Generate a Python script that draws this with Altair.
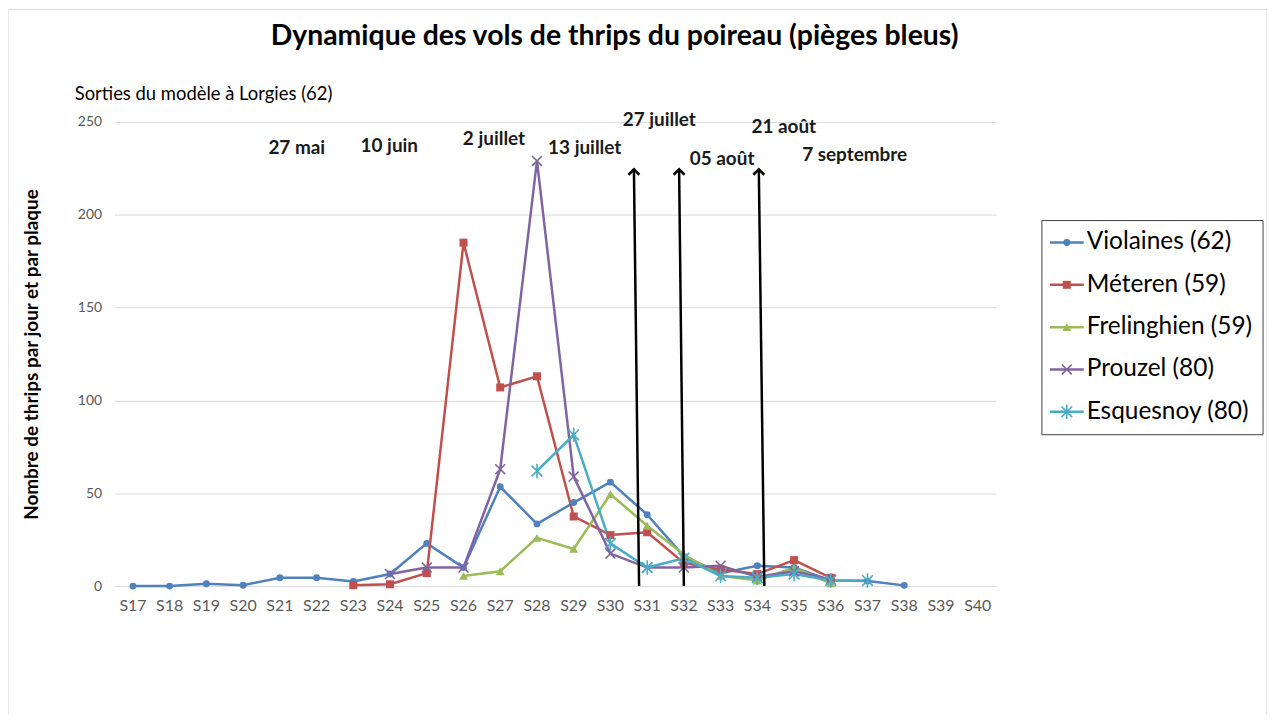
import altair as alt
import pandas as pd

# ---------------- data ----------------
weeks = list(range(17, 41))
week_labels = ["S%d" % w for w in weeks]
series_names = ["Violaines (62)", "Méteren (59)", "Frelinghien (59)", "Prouzel (80)", "Esquesnoy (80)"]
colors = ["#4F81BD", "#C0504D", "#9BBB59", "#8064A2", "#4BACC6"]

violaines_weeks = list(range(17, 39))
violaines = [0, 0, 1.3, 0.5, 4.5, 4.5, 2.5, 6.5, 23, 10, 53.5, 33.5, 45, 56, 38.5, 16, 7, 11, 10, 3, 2.7, 0.4]
meteren_weeks = list(range(23, 37))
meteren = [0.5, 1, 7, 185, 107, 113, 37.5, 27.5, 29, 12.5, 9, 6.5, 14, 4.5]
frelinghien_weeks = list(range(26, 37))
frelinghien = [5.5, 8, 26, 20, 49.5, 32.5, 17, 5.5, 3, 10, 1.5]
prouzel_weeks = list(range(24, 37))
prouzel = [6.5, 10, 10, 63, 229, 59, 17.5, 10, 10, 11, 5, 8, 3.5]
esquesnoy_weeks = list(range(28, 38))
esquesnoy = [62, 81.5, 23, 10, 15, 5.5, 4.5, 6.5, 3, 3]

ann_text = ["27 mai", "10 juin", "2 juillet", "13 juillet", "27 juillet", "05 août", "21 août", "7 septembre"]
ann_week = [21.46, 23.98, 26.83, 29.3, 31.33, 33.04, 34.72, 36.65]
ann_value = [236, 237, 241, 236, 251, 230, 247, 232]

arrow_week_base = [30.78, 32.0, 34.19]
arrow_week_tip = [30.64, 31.87, 34.04]
arrow_tip_value = [224.5, 224.5, 224.5]

title_text = "Dynamique des vols de thrips du poireau (pièges bleus)"
subtitle_text = "Sorties du modèle à Lorgies (62)"
y_title = "Nombre de thrips par jour et par plaque"

# ---------------- tables ----------------
rows = []
for name, wk, vals in zip(series_names,
                          [violaines_weeks, meteren_weeks, frelinghien_weeks, prouzel_weeks, esquesnoy_weeks],
                          [violaines, meteren, frelinghien, prouzel, esquesnoy]):
    for w, v in zip(wk, vals):
        rows.append({"series": name, "week": w, "value": v})
df = pd.DataFrame(rows)
ann_df = pd.DataFrame({"label": ann_text, "week": ann_week, "value": ann_value})
arrow_df = pd.DataFrame({"base": arrow_week_base, "tip": arrow_week_tip,
                         "y0": [0] * len(arrow_tip_value), "y1": arrow_tip_value})
tick_df = pd.DataFrame({"week": weeks, "label": week_labels})
legend_df = pd.DataFrame({"series": series_names})
one = pd.DataFrame({"k": [0]})

FONT = "Lato"
shape_range = ["circle", "square", "triangle-up",
               "M -1 -1 L 1 1 M -1 1 L 1 -1",
               "M -1 -1 L 1 1 M -1 1 L 1 -1 M 0 -1.35 L 0 1.35"]
size_range = [48, 115, 100, 150, 160]
filled_names = series_names[:3]
open_names = series_names[3:]

color_enc = alt.Color("series:N", scale=alt.Scale(domain=series_names, range=colors), legend=None)
shape_enc = alt.Shape("series:N", scale=alt.Scale(domain=series_names, range=shape_range), legend=None)
size_enc = alt.Size("series:N", scale=alt.Scale(domain=series_names, range=size_range), legend=None)

x_enc = alt.X("week:Q", scale=alt.Scale(domain=[16.5, 40.5], nice=False, zero=False), axis=None)
y_enc = alt.Y("value:Q",
              scale=alt.Scale(domain=[0, 250], nice=False),
              axis=alt.Axis(values=[0, 50, 100, 150, 200, 250], grid=True, gridColor="#d9d9d9",
                            ticks=False, domain=False, labelFontSize=14, labelColor="#595959",
                            labelFont=FONT, labelPadding=13, title=y_title, titleFont=FONT,
                            titleFontSize=19, titleFontWeight="bold", titleColor="black",
                            titleAngle=-90, titleX=-83, titleY=233, titleAlign="center",
                            titleBaseline="middle"))

base = alt.Chart(df)
lines = base.mark_line(strokeWidth=2.5).encode(x=x_enc, y=y_enc, color=color_enc, detail="series:N")
pts_f = base.mark_point(filled=True, opacity=1).encode(
    x="week:Q", y="value:Q", color=color_enc, shape=shape_enc, size=size_enc
).transform_filter(alt.FieldOneOfPredicate(field="series", oneOf=filled_names))
pts_o = base.mark_point(filled=False, opacity=1, strokeWidth=1.6).encode(
    x="week:Q", y="value:Q", color=color_enc, shape=shape_enc, size=size_enc
).transform_filter(alt.FieldOneOfPredicate(field="series", oneOf=open_names))

# x tick labels (category axis drawn as text under the plot)
xlabels = alt.Chart(tick_df).mark_text(font=FONT, fontSize=16, color="#595959",
                                       align="center", baseline="middle").encode(
    x="week:Q", y=alt.value(486), text="label:N")

arrow_rule = alt.Chart(arrow_df).mark_rule(color="black", strokeWidth=2.5).encode(
    x="base:Q", x2="tip:Q", y="y0:Q", y2="y1:Q")
arrow_head = alt.Chart(arrow_df).mark_point(shape="M -1 1 L 0 0 L 1 1", size=120, filled=False,
                                            color="black", strokeWidth=2.5, opacity=1).encode(
    x="tip:Q", y="y1:Q")

ann = alt.Chart(ann_df).mark_text(font=FONT, fontSize=19, fontWeight="bold", color="#1a1a1a",
                                  align="center", baseline="middle").encode(
    x="week:Q", y="value:Q", text="label:N")

title = alt.Chart(one).mark_text(text=title_text, font=FONT, fontSize=28.5, fontWeight="bold",
                                 color="black", align="center", baseline="middle").encode(
    x=alt.value(502), y=alt.value(-86))
subtitle = alt.Chart(one).mark_text(text=subtitle_text, font=FONT, fontSize=18.5, color="black",
                                    align="left", baseline="middle").encode(
    x=alt.value(-40), y=alt.value(-28))
frame = alt.Chart(one).mark_rect(fill="white", fillOpacity=0, stroke="#d9d9d9", strokeWidth=1).encode(
    x=alt.value(-107), x2=alt.value(1157), y=alt.value(-113), y2=alt.value(606))

main = alt.layer(frame, lines, pts_f, pts_o, xlabels, arrow_rule, arrow_head, ann, title, subtitle)

# ---------------- legend (drawn) ----------------
ly = alt.Y("series:N", scale=alt.Scale(type="point", domain=series_names, range=[121, 291], padding=0),
           axis=None)
lbase = alt.Chart(legend_df)
lbox = alt.Chart(one).mark_rect(fill="white", stroke="#404040", strokeWidth=1).encode(
    x=alt.value(931), x2=alt.value(1153), y=alt.value(99), y2=alt.value(314))
lrule = lbase.mark_rule(strokeWidth=2.5).encode(x=alt.value(939), x2=alt.value(973), y=ly, color=color_enc)
lpf = lbase.mark_point(filled=True, opacity=1).encode(
    x=alt.value(956), y=ly, color=color_enc, shape=shape_enc, size=size_enc
).transform_filter(alt.FieldOneOfPredicate(field="series", oneOf=filled_names))
lpo = lbase.mark_point(filled=False, opacity=1, strokeWidth=1.6).encode(
    x=alt.value(956), y=ly, color=color_enc, shape=shape_enc, size=size_enc
).transform_filter(alt.FieldOneOfPredicate(field="series", oneOf=open_names))
ltext = lbase.mark_text(font=FONT, fontSize=24.5, color="black", align="left", baseline="middle").encode(
    x=alt.value(976), y=ly, text="series:N")
legend = alt.layer(lbox, lrule, lpf, lpo, ltext)

chart = alt.layer(main, legend).resolve_scale(y="independent").properties(
    width=885, height=466,
    autosize=alt.AutoSizeParams(type="none"),
    padding={"left": 107, "top": 113, "right": 272, "bottom": 128},
    background="white",
).configure_view(stroke=None)

chart.save("out.html", embed_options={"renderer": "svg", "actions": False})
